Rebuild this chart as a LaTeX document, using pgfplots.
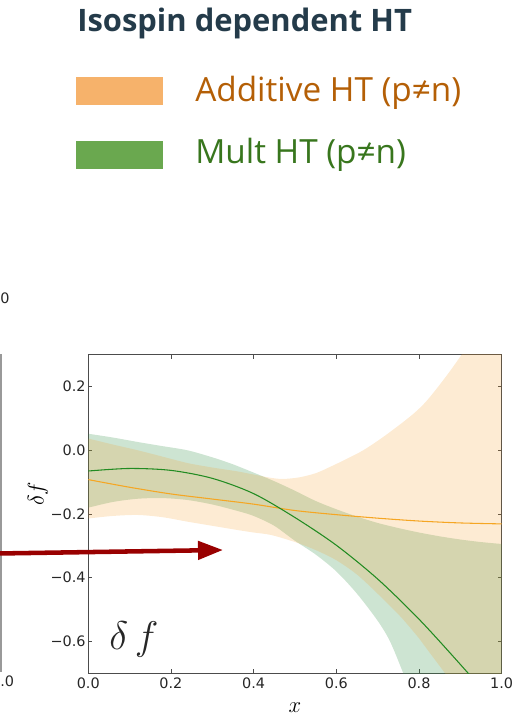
\RequirePackage{fix-cm}
\documentclass[border=0pt]{standalone}
\usepackage{pgfplots}
\pgfplotsset{compat=1.18}
\usepackage{fontspec}
\setmainfont{Open Sans}
\newfontfamily\dejavu{DejaVu Sans}
\usetikzlibrary{arrows.meta}
\definecolor{titlecol}{RGB}{36,59,74}
\definecolor{legorange}{RGB}{246,178,107}
\definecolor{leggreen}{RGB}{106,168,79}
\definecolor{txtorange}{RGB}{180,95,6}
\definecolor{txtgreen}{RGB}{56,118,29}
\definecolor{bandgreen}{RGB}{55,147,75}
\definecolor{bandorange}{RGB}{245,155,35}
\definecolor{lineorange}{RGB}{245,166,35}
\definecolor{linegreen}{RGB}{34,139,34}
\definecolor{arrowred}{RGB}{153,0,0}
\begin{document}
\begin{tikzpicture}
\useasboundingbox (0pt,0pt) rectangle (396.75pt,537pt);
\begin{axis}[
  at={(66.2pt,32pt)}, anchor=south west,
  scale only axis, width=310.05pt, height=238.95pt,
  xmin=0, xmax=1, ymin=-0.7, ymax=0.3,
  xtick={0,0.2,0.4,0.6,0.8,1},
  xticklabels={0.0,0.2,0.4,0.6,0.8,1.0},
  ytick={-0.6,-0.4,-0.2,0,0.2},
  yticklabels={−0.6,−0.4,−0.2,0.0,0.2},
  tick align=inside, tick pos=both, major tick length=3pt,
  tick style={black!70, line width=0.6pt},
  axis line style={black!70, line width=0.8pt},
  tick label style={font=\dejavu\fontsize{10.8}{12}\selectfont, text=black!85},
  yticklabel style={xshift=1.5pt},
  xlabel={$x$}, ylabel={$\delta f$},
  label style={font=\fontsize{17}{17}\selectfont},
  xlabel style={at={(axis description cs:0.5,-0.107)}, anchor=center},
  ylabel style={at={(axis description cs:-0.1217,0.563)}, anchor=center},
]
% green band: upper edge then lower edge (reversed); drawn first
\addplot[draw=none, fill=bandgreen, fill opacity=0.25, smooth] coordinates {
(-0.1,0.072)(-0.05,0.062)(0,0.052)(0.06,0.040)(0.12,0.026)(0.18,0.013)(0.24,0.0)(0.30,-0.022)(0.35,-0.044)(0.40,-0.070)(0.45,-0.097)(0.50,-0.127)(0.55,-0.159)(0.60,-0.185)(0.65,-0.208)(0.70,-0.228)(0.75,-0.244)(0.80,-0.258)(0.85,-0.270)(0.90,-0.280)(0.95,-0.288)(1.0,-0.294)(1.05,-0.299)(1.1,-0.303)
(1.1,-1.9)(1.05,-1.7)(1.0,-1.5)(0.9,-1.17)(0.85,-1.0)(0.8,-0.83)(0.762,-0.70)(0.73,-0.60)(0.70,-0.535)(0.65,-0.45)(0.60,-0.38)(0.55,-0.327)(0.50,-0.284)(0.45,-0.237)(0.40,-0.206)(0.36,-0.19)(0.30,-0.170)(0.24,-0.156)(0.18,-0.150)(0.12,-0.152)(0.06,-0.162)(0,-0.180)(-0.05,-0.196)(-0.1,-0.215)
} -- cycle;
% orange band on top
\addplot[draw=none, fill=bandorange, fill opacity=0.2, smooth] coordinates {
(-0.1,0.07)(-0.05,0.054)(0,0.037)(0.06,0.018)(0.12,0.0)(0.18,-0.02)(0.24,-0.040)(0.30,-0.054)(0.36,-0.066)(0.40,-0.076)(0.44,-0.086)(0.47,-0.090)(0.51,-0.085)(0.55,-0.072)(0.585,-0.052)(0.625,-0.027)(0.665,0.0)(0.706,0.035)(0.746,0.073)(0.786,0.114)(0.815,0.150)(0.843,0.194)(0.873,0.245)(0.903,0.30)(0.95,0.39)(1.0,0.50)(1.05,0.62)(1.1,0.75)
(1.1,-1.2)(1.05,-1.08)(1.0,-0.97)(0.95,-0.87)(0.9,-0.77)(0.863,-0.70)(0.82,-0.625)(0.80,-0.59)(0.754,-0.52)(0.70,-0.45)(0.65,-0.39)(0.60,-0.345)(0.55,-0.313)(0.50,-0.288)(0.443,-0.266)(0.40,-0.258)(0.36,-0.25)(0.30,-0.237)(0.24,-0.224)(0.18,-0.210)(0.12,-0.203)(0.06,-0.206)(0,-0.214)(-0.05,-0.222)(-0.1,-0.23)
} -- cycle;
% central lines
\addplot[lineorange, line width=0.8pt, smooth] coordinates {
(0,-0.092)(0.1,-0.116)(0.2,-0.137)(0.3,-0.153)(0.4,-0.169)(0.5,-0.189)(0.6,-0.202)(0.7,-0.213)(0.8,-0.222)(0.9,-0.228)(1.0,-0.231)
};
\addplot[linegreen, line width=0.8pt, smooth] coordinates {
(0,-0.065)(0.1,-0.057)(0.2,-0.063)(0.3,-0.088)(0.4,-0.136)(0.5,-0.211)(0.6,-0.298)(0.7,-0.404)(0.8,-0.530)(0.9,-0.672)(1.0,-0.82)
};
\end{axis}
% slide decorations
\node[anchor=base west, inner sep=0, font=\bfseries\fontsize{23.2}{24}\selectfont, text=titlecol] at (57.75pt,513pt) {Isospin dependent HT};
\fill[legorange] (57pt,458.25pt) rectangle (122.25pt,479.25pt);
\fill[leggreen] (57pt,410.25pt) rectangle (122.25pt,431.25pt);
\node[anchor=base west, inner sep=0, font=\fontsize{25}{25}\selectfont, text=txtorange] at (146.25pt,460.7pt) {Additive HT (p≠n)};
\node[anchor=base west, inner sep=0, font=\fontsize{25}{25}\selectfont, text=txtgreen] at (146.25pt,414pt) {Mult HT (p≠n)};
\draw[black!40, line width=0.8pt] (0.75pt,33pt) -- (0.75pt,271.5pt);
\node[inner sep=0, font=\dejavu\fontsize{10.8}{12}\selectfont, text=black!85] at (3.75pt,313.5pt) {0};
\node[anchor=west, inner sep=0, font=\dejavu\fontsize{10.8}{12}\selectfont, text=black!85] at (0pt,25.7pt) {.0};
\draw[arrowred, line width=3.4pt, -{Triangle[length=18.75pt,width=13.5pt]}] (0pt,121.9pt) -- (167.25pt,124.5pt);
\node[text=black!85, font=\fontsize{30}{30}\selectfont] at (100.5pt,57pt) {$\delta\,f$};
\end{tikzpicture}
\end{document}
